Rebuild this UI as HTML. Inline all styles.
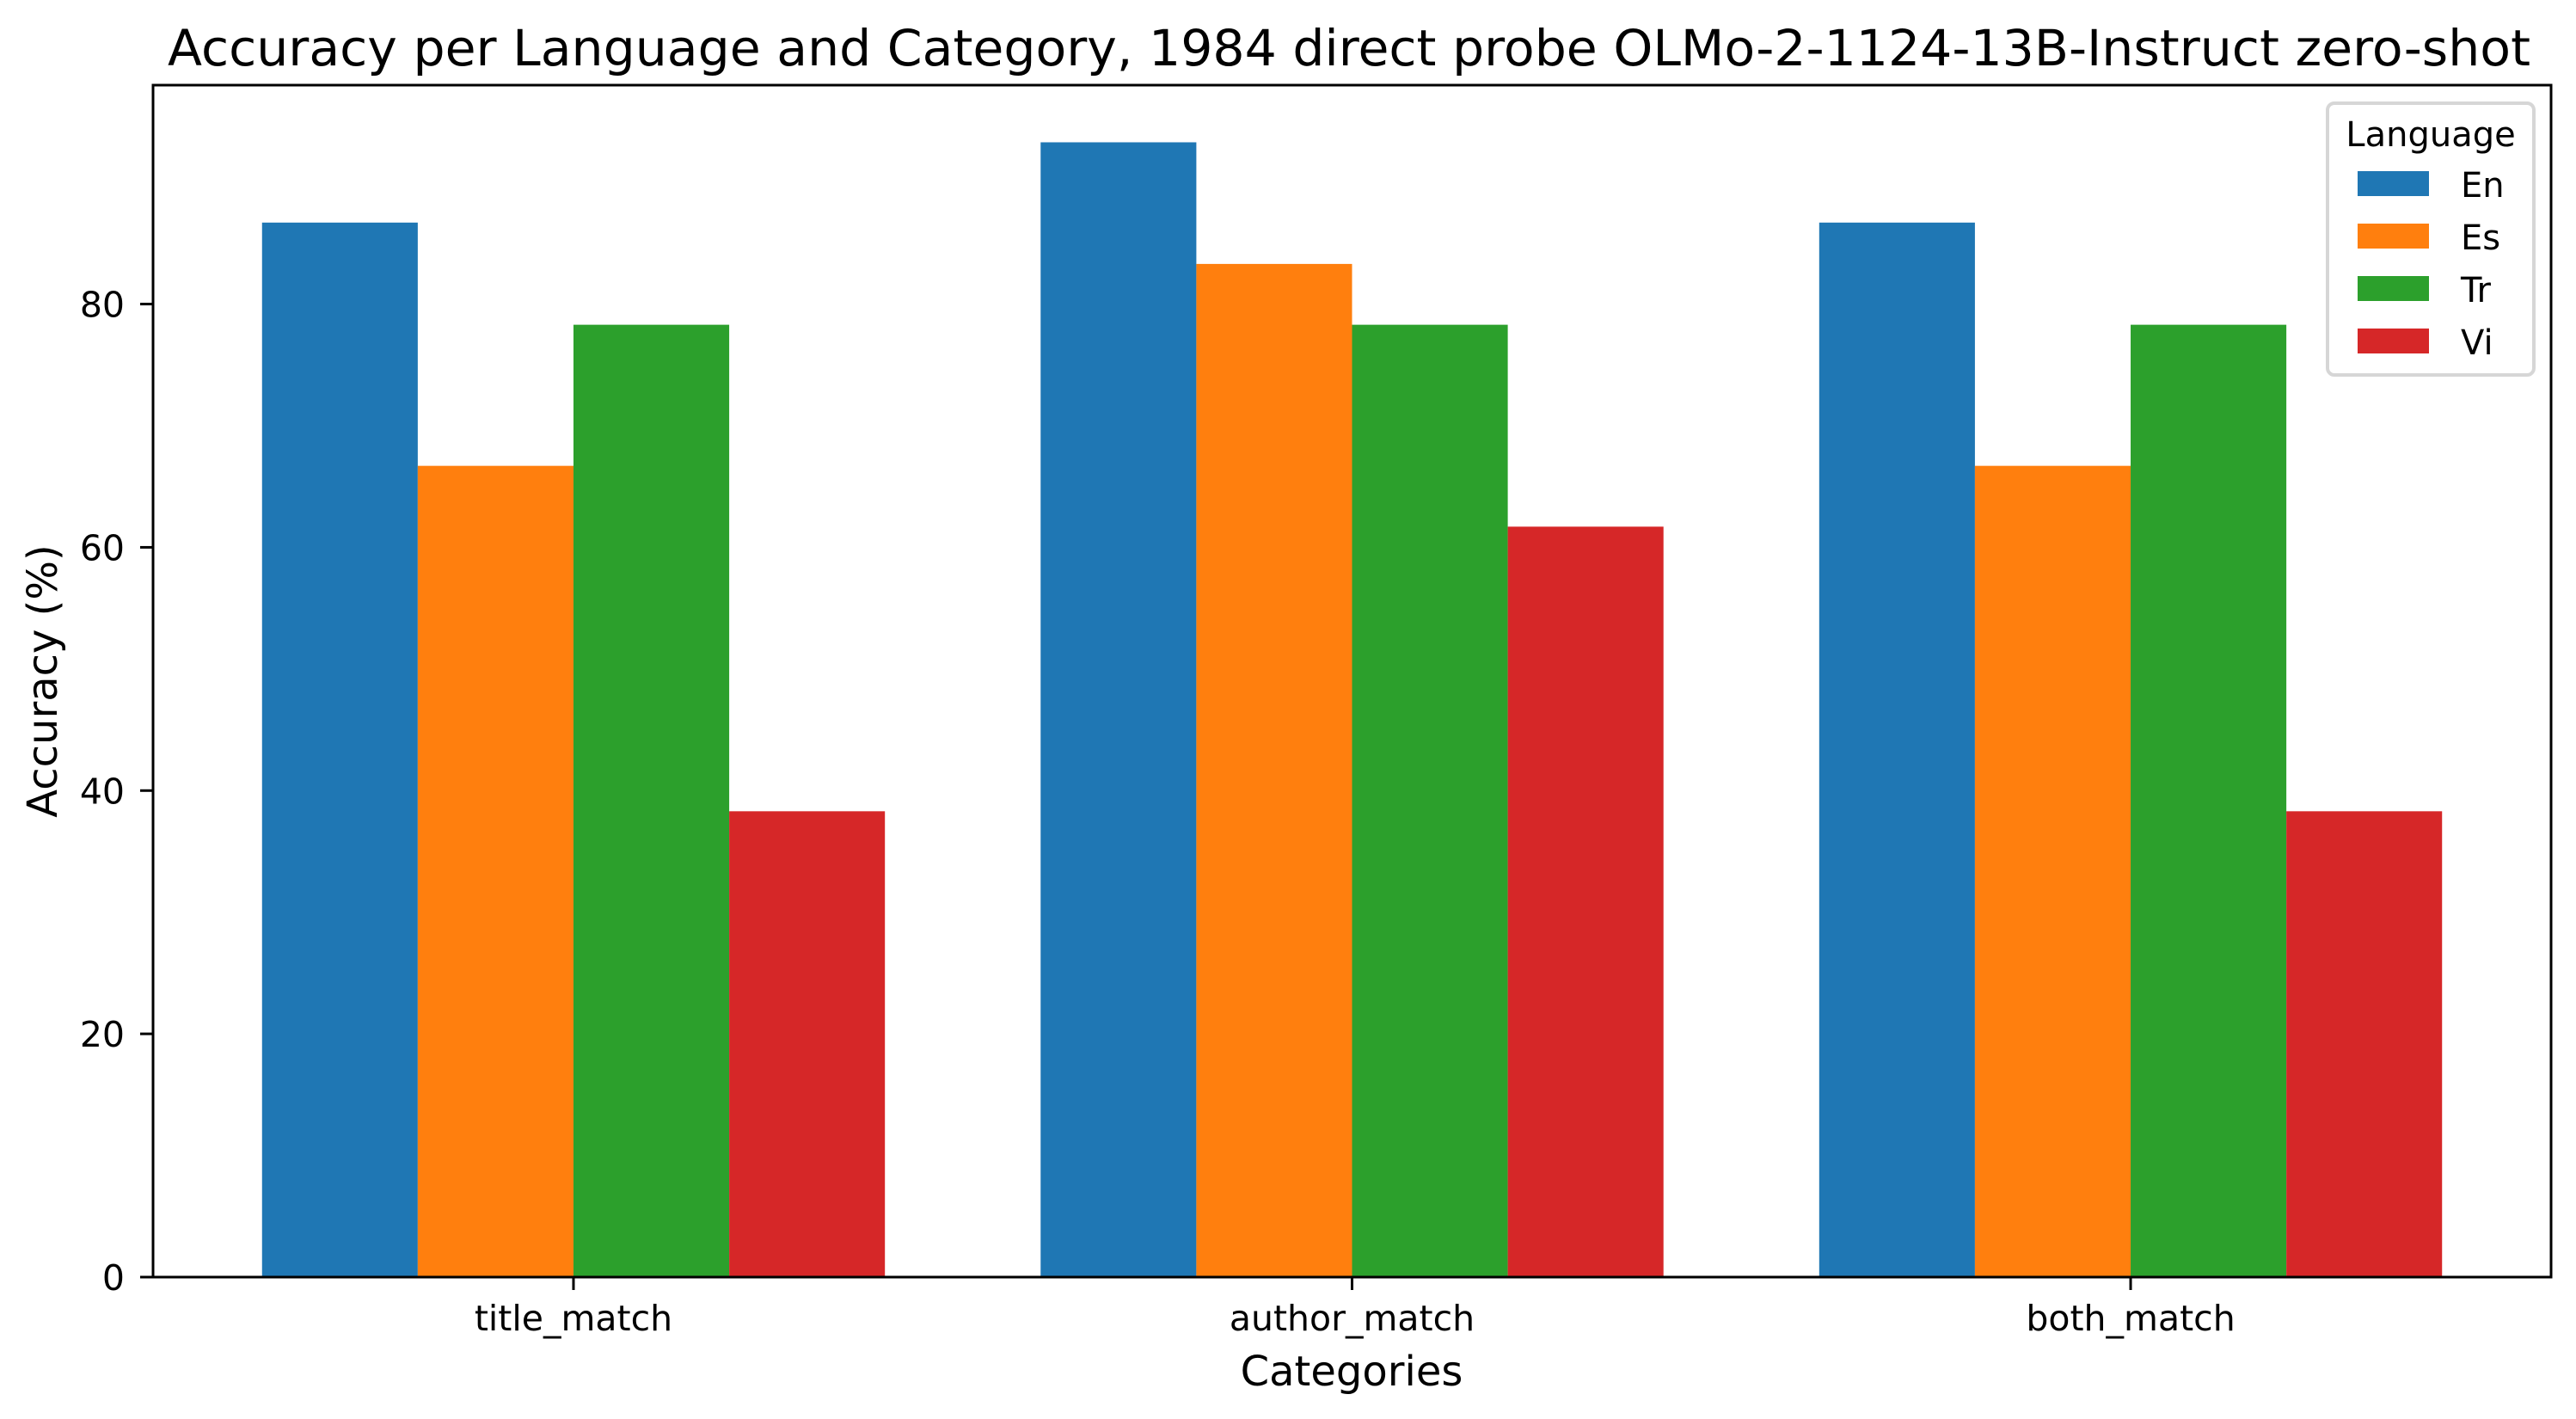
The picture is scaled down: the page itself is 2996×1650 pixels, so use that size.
<!DOCTYPE html>
<html><head><meta charset="utf-8"><style>
html,body{margin:0;padding:0;background:#fff;}
svg{display:block;font-family:"DejaVu Sans","Liberation Sans",sans-serif;}
</style></head><body>
<svg id="chart" width="2996" height="1650" viewBox="0 0 2996 1650" xmlns="http://www.w3.org/2000/svg">
<rect x="0" y="0" width="2996" height="1650" fill="#fff"/>
<text x="1569" y="76" font-size="58" text-anchor="middle" textLength="2748" lengthAdjust="spacingAndGlyphs">Accuracy per Language and Category, 1984 direct probe OLMo-2-1124-13B-Instruct zero-shot</text>
<g id="bars"></g>
<g id="yticks"></g>
<g id="xticks"></g>
<rect x="178" y="99" width="2789" height="1386" fill="none" stroke="#000" stroke-width="3"/>
<text x="1572" y="1611" font-size="48" text-anchor="middle">Categories</text>
<text x="0" y="0" font-size="48" text-anchor="middle" transform="translate(66,792) rotate(-90)">Accuracy (%)</text>
<g id="legend">
<rect x="2707" y="120" width="240" height="316" rx="8" fill="#fff" fill-opacity="0.8" stroke="#d6d6d6" stroke-width="4"/>
<text x="2827" y="170" font-size="40" text-anchor="middle">Language</text>
</g>
</svg>
<script>
const categories = ["title_match", "author_match", "both_match"];
const languages = ["En", "Es", "Tr", "Vi"];
const colors = ["#1f77b4", "#ff7f0e", "#2ca02c", "#d62728"];
const seriesEn = [86.7, 93.3, 86.7];
const seriesEs = [66.7, 83.3, 66.7];
const seriesTr = [78.3, 78.3, 78.3];
const seriesVi = [38.3, 61.7, 38.3];
const yTicks = [0, 20, 40, 60, 80];

const series = [seriesEn, seriesEs, seriesTr, seriesVi];
const NS = "http://www.w3.org/2000/svg";
const L = 178, R = 2967, T = 99, B = 1485;
const xmin = -0.54, xmax = 2.54, ymin = 0, ymax = 98;
function xs(v){ return L + (v - xmin) / (xmax - xmin) * (R - L); }
function ys(v){ return B - (v - ymin) / (ymax - ymin) * (B - T); }
function mk(tag, attrs){ const e = document.createElementNS(NS, tag); for (const k in attrs) e.setAttribute(k, attrs[k]); return e; }

const barsG = document.getElementById("bars");
const bw = 0.2;
series.forEach((vals, s) => {
  vals.forEach((v, i) => {
    const x0 = i - 0.4 + s * bw;
    const r = mk("rect", {x: xs(x0), y: ys(v), width: xs(x0 + bw) - xs(x0), height: ys(0) - ys(v), fill: colors[s]});
    
    
    barsG.appendChild(r);
  });
});

const yG = document.getElementById("yticks");
yTicks.forEach(t => {
  const y = ys(t);
  const ln = mk("line", {x1: L - 15, x2: L, y1: y, y2: y, stroke: "#000", "stroke-width": 3});
  
  
  yG.appendChild(ln);
  const tx = mk("text", {x: 145, y: y + 15, "font-size": 41, "text-anchor": "end"});
  tx.textContent = t;
  
  
  yG.appendChild(tx);
});

const xG = document.getElementById("xticks");
categories.forEach((c, i) => {
  const x = xs(i);
  const ln = mk("line", {x1: x, x2: x, y1: B, y2: B + 15, stroke: "#000", "stroke-width": 3});
  
  
  xG.appendChild(ln);
  const tx = mk("text", {x: x, y: 1547, "font-size": 41, "text-anchor": "middle"});
  tx.textContent = c;
  
  
  xG.appendChild(tx);
});

const lg = document.getElementById("legend");
languages.forEach((lang, s) => {
  const y = 199 + s * 61;
  const p = mk("rect", {x: 2742, y: y, width: 83, height: 29, fill: colors[s]});
  
  
  lg.appendChild(p);
  const tx = mk("text", {x: 2862, y: y + 30, "font-size": 40});
  tx.textContent = lang;
  
  
  lg.appendChild(tx);
});
</script>
</body></html>
